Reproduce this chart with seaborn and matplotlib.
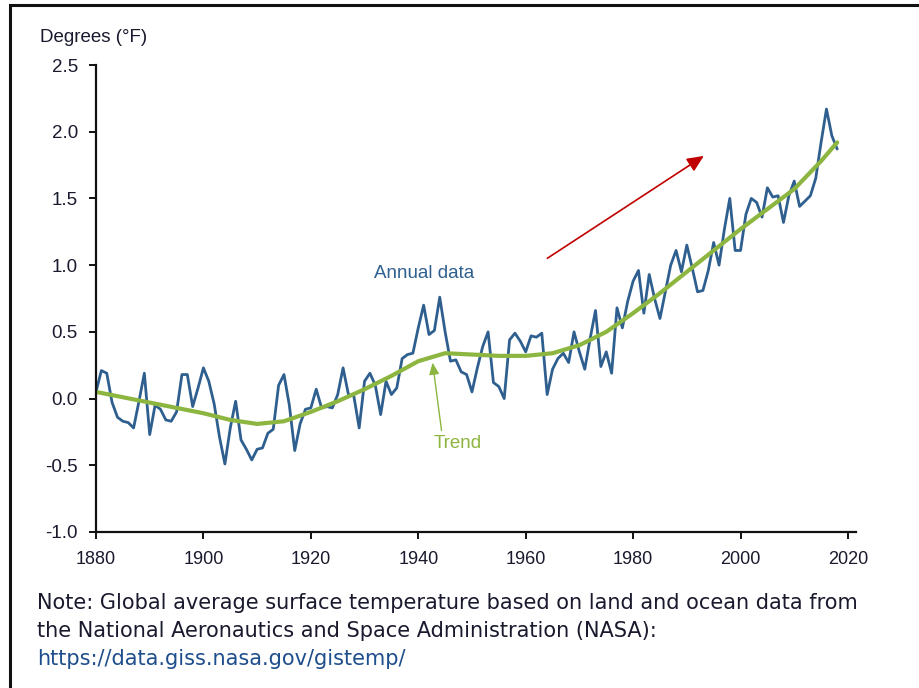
import numpy as np
import pandas as pd
import matplotlib
matplotlib.use("Agg")
import matplotlib.pyplot as plt
from matplotlib.patches import Rectangle
import seaborn as sns

# annual temperature values (deg F), 1880-2018
years = list(range(1880, 2019))
annual = [
    0.05, 0.21, 0.19, -0.03, -0.14, -0.17, -0.18, -0.22, -0.02, 0.19,
    -0.27, -0.05, -0.08, -0.16, -0.17, -0.10, 0.18, 0.18, -0.06, 0.08,
    0.23, 0.13, -0.04, -0.29, -0.49, -0.22, -0.02, -0.31, -0.38, -0.46,
    -0.38, -0.37, -0.26, -0.23, 0.10, 0.18, -0.05, -0.39, -0.19, -0.08,
    -0.07, 0.07, -0.07, -0.06, -0.07, 0.03, 0.23, 0.03, 0.02, -0.22,
    0.13, 0.19, 0.10, -0.12, 0.13, 0.03, 0.08, 0.30, 0.33, 0.34,
    0.53, 0.70, 0.48, 0.51, 0.76, 0.50, 0.28, 0.29, 0.20, 0.18,
    0.05, 0.23, 0.39, 0.50, 0.12, 0.09, 0.00, 0.44, 0.49, 0.43,
    0.35, 0.47, 0.46, 0.49, 0.03, 0.22, 0.30, 0.34, 0.27, 0.50,
    0.35, 0.22, 0.45, 0.66, 0.24, 0.35, 0.19, 0.68, 0.53, 0.73,
    0.88, 0.96, 0.64, 0.93, 0.75, 0.60, 0.80, 1.00, 1.11, 0.95,
    1.15, 0.98, 0.80, 0.81, 0.96, 1.17, 1.00, 1.27, 1.50, 1.11,
    1.11, 1.38, 1.50, 1.47, 1.36, 1.58, 1.51, 1.52, 1.32, 1.52,
    1.63, 1.44, 1.48, 1.52, 1.65, 1.92, 2.17, 1.97, 1.87,
]

# smoothed trend, read every 5 years
trend_years = [1880, 1885, 1890, 1895, 1900, 1905, 1910, 1915, 1920, 1925,
               1930, 1935, 1940, 1945, 1950, 1955, 1960, 1965, 1970, 1975,
               1980, 1985, 1990, 1995, 2000, 2005, 2010, 2015, 2018]
trend = [0.05, 0.01, -0.03, -0.07, -0.11, -0.16, -0.19, -0.17, -0.10, -0.02,
         0.07, 0.17, 0.28, 0.34, 0.33, 0.32, 0.32, 0.34, 0.40, 0.50,
         0.64, 0.79, 0.95, 1.11, 1.27, 1.42, 1.57, 1.78, 1.92]

x_ticks = [1880, 1900, 1920, 1940, 1960, 1980, 2000, 2020]
y_ticks = [-1.0, -0.5, 0.0, 0.5, 1.0, 1.5, 2.0, 2.5]

blue = "#2f5f8f"
green = "#8db640"

df_annual = pd.DataFrame({"Year": years, "Temp": annual})
df_trend = pd.DataFrame({"Year": trend_years, "Temp": trend})

sns.set_style("ticks")
plt.rcParams['font.family'] = ['Liberation Sans', 'DejaVu Sans']

fig = plt.figure(figsize=(9.19, 6.88), dpi=100)
ax = fig.add_axes([96 / 919, 1 - 532 / 688, (856 - 96) / 919, (532 - 65) / 688])

sns.lineplot(data=df_annual, x="Year", y="Temp", color=blue, linewidth=2.0, ax=ax)
sns.lineplot(data=df_trend, x="Year", y="Temp", color=green, linewidth=3.0, ax=ax)

ax.set_xlim(1880, 2021.5)
ax.set_ylim(-1.0, 2.5)
ax.set_xticks(x_ticks)
ax.set_yticks(y_ticks)
ax.set_yticklabels([f"{v:.1f}" for v in y_ticks], fontsize=13.5, color="#1a1a2e")
ax.set_xticklabels([str(v) for v in x_ticks], fontsize=13, color="#1a1a2e")
ax.set_xlabel("")
ax.set_ylabel("")
sns.despine(ax=ax)
for s in ["left", "bottom"]:
    ax.spines[s].set_linewidth(1.6)
    ax.spines[s].set_color("#111111")
ax.tick_params(axis="both", direction="out", length=5, width=1.4, color="#111111")
ax.tick_params(axis="x", pad=9)
ax.tick_params(axis="y", pad=8)

fig.text(40 / 919, 1 - 37 / 688, "Degrees (°F)", fontsize=13.5, color="#1a1a2e",
         ha="left", va="center")

ax.text(1941.1, 0.94, "Annual data", color=blue, fontsize=13.5, ha="center", va="center")
ax.text(1947.4, -0.34, "Trend", color=green, fontsize=13.5, ha="center", va="center")

ax.annotate("", xy=(1942.6, 0.29), xytext=(1944.4, -0.26),
            arrowprops=dict(arrowstyle="-|>,head_length=0.7,head_width=0.3",
                            color=green, lw=1.0))
ax.annotate("", xy=(1993.6, 1.83), xytext=(1963.6, 1.04),
            arrowprops=dict(arrowstyle="-|>,head_length=1.0,head_width=0.45",
                            color="#c00000", lw=1.2))

note_font = ['DejaVu Sans']
fig.text(37 / 919, 1 - 603 / 688,
         "Note: Global average surface temperature based on land and ocean data from",
         fontsize=15, color="#1a1a2e", family=note_font, ha="left", va="center")
fig.text(37 / 919, 1 - 631 / 688,
         "the National Aeronautics and Space Administration (NASA):",
         fontsize=15, color="#1a1a2e", family=note_font, ha="left", va="center")
fig.text(37 / 919, 1 - 659 / 688, "https://data.giss.nasa.gov/gistemp/",
         fontsize=15, color="#1f4e8c", family=note_font, ha="left", va="center")

# outer frame
fig.patches.append(Rectangle((10 / 919, -0.02), 1.0, 1 - 5 / 688 + 0.02,
                             transform=fig.transFigure, fill=False,
                             edgecolor="#111111", linewidth=2.2))

fig.savefig("out.png", dpi=100)
